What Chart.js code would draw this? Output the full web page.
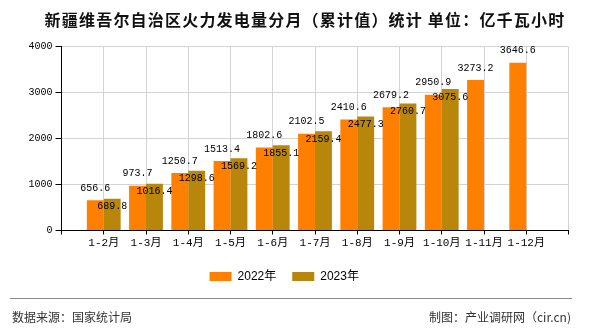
<!DOCTYPE html>
<html>
<head>
<meta charset="utf-8">
<script src="https://cdn.jsdelivr.net/npm/chart.js@4"></script>
<style>
html,body{margin:0;padding:0;background:#fff;}
#wrap{width:590px;height:330px;position:relative;}
</style>
</head>
<body>
<div id="wrap"><canvas id="c" width="590" height="330"></canvas></div>
<script>
const titleText = '新疆维吾尔自治区火力发电量分月（累计值）统计 单位：亿千瓦小时';
const categories = ['1-2月','1-3月','1-4月','1-5月','1-6月','1-7月','1-8月','1-9月','1-10月','1-11月','1-12月'];
const series2022 = [656.6, 973.7, 1250.7, 1513.4, 1802.6, 2102.5, 2410.6, 2679.2, 2950.9, 3273.2, 3646.6];
const series2023 = [689.8, 1016.4, 1298.6, 1569.2, 1855.1, 2159.4, 2477.3, 2760.7, 3075.6, null, null];
const yTicks = [0, 1000, 2000, 3000, 4000];
const seriesNames = ['2022年', '2023年'];
const sourceText = '数据来源：国家统计局';
const creditText = '制图：产业调研网（cir.cn)';

const axisLabels = [''].concat(categories, ['']);
const pad = arr => [null].concat(arr, [null]);

const MONO = '"Liberation Mono", "Noto Sans CJK SC", monospace';
const CJK = '"Noto Sans CJK SC", sans-serif';

const labelPlugin = {
  id: 'valueLabels',
  afterDatasetsDraw(chart) {
    const ctx = chart.ctx;
    ctx.save();
    ctx.font = '10px ' + MONO;
    ctx.fillStyle = '#000';
    ctx.textAlign = 'center';
    ctx.textBaseline = 'middle';
    chart.data.datasets.forEach((ds, di) => {
      const meta = chart.getDatasetMeta(di);
      meta.data.forEach((el, i) => {
        const v = ds.data[i];
        if (v === null || v === undefined) return;
        const dy = di === 0 ? -12 : 8;
        ctx.fillText(v.toFixed(1), el.x, el.y + dy);
      });
    });
    ctx.restore();
  }
};

const decorPlugin = {
  id: 'decor',
  afterDraw(chart) {
    const ctx = chart.ctx;
    ctx.save();
    ctx.fillStyle = '#111';
    ctx.font = 'bold 16px ' + CJK;
    try { ctx.letterSpacing = '1.2px'; } catch (e) {}
    ctx.textAlign = 'center';
    ctx.textBaseline = 'middle';
    ctx.fillText(titleText, 305, 20);
    try { ctx.letterSpacing = '0px'; } catch (e) {}
    ctx.strokeStyle = '#888';
    ctx.lineWidth = 1;
    ctx.beginPath();
    ctx.moveTo(10, 298.5);
    ctx.lineTo(572, 298.5);
    ctx.stroke();
    ctx.font = '12px ' + CJK;
    ctx.fillStyle = '#333';
    ctx.textAlign = 'left';
    ctx.fillText(sourceText, 12, 317);
    ctx.textAlign = 'right';
    ctx.fillText(creditText, 571, 317);
    ctx.restore();
  }
};

new Chart(document.getElementById('c'), {
  type: 'bar',
  data: {
    labels: axisLabels,
    datasets: [
      { label: seriesNames[0], data: pad(series2022), backgroundColor: '#FF8000', categoryPercentage: 0.8, barPercentage: 1.0 },
      { label: seriesNames[1], data: pad(series2023), backgroundColor: '#B8860B', categoryPercentage: 0.8, barPercentage: 1.0 }
    ]
  },
  options: {
    responsive: false,
    animation: false,
    devicePixelRatio: 1,
    layout: { padding: { top: 46.5, right: 21.5, left: 0, bottom: 37.5 } },
    plugins: {
      title: { display: false },
      tooltip: { enabled: false },
      legend: {
        position: 'bottom',
        labels: {
          boxWidth: 22, boxHeight: 9, padding: 16,
          color: '#000',
          font: { size: 12, family: '"Liberation Sans", ' + CJK }
        }
      }
    },
    scales: {
      x: {
        offset: false,
        grid: { offset: false, color: '#d3d3d3', tickColor: '#000', tickLength: 4, drawTicks: true },
        border: { color: '#000', width: 1 },
        ticks: { autoSkip: false, maxRotation: 0, minRotation: 0, color: '#000', padding: 2, font: { size: 11, family: MONO } },
        afterFit(s) { s.height = 24; }
      },
      y: {
        min: 0, max: 4000,
        afterBuildTicks(s) { s.ticks = yTicks.map(v => ({ value: v })); },
        grid: { color: '#d3d3d3', tickColor: '#000', tickLength: 6, drawTicks: true },
        border: { color: '#000', width: 1 },
        ticks: { color: '#000', padding: 3, font: { size: 10, family: MONO }, callback: v => String(v) },
        afterFit(s) { s.width = 61.5; }
      }
    }
  },
  plugins: [labelPlugin, decorPlugin]
});
</script>
</body>
</html>
